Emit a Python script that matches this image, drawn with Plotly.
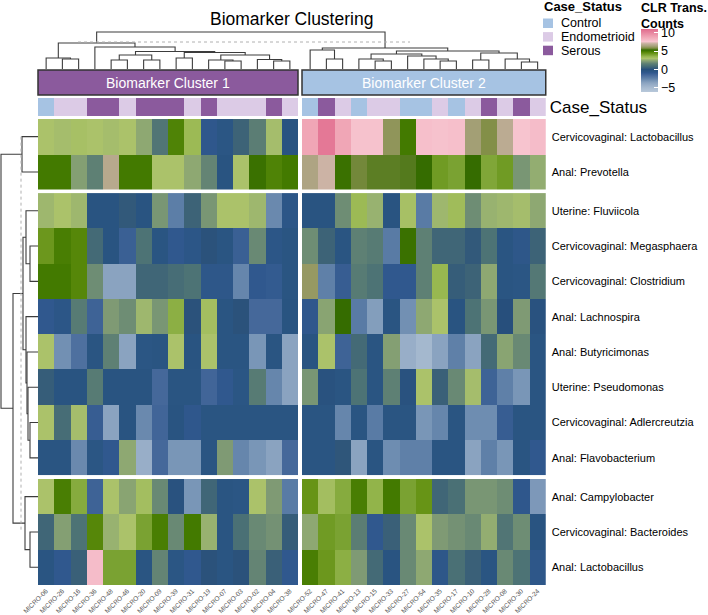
import plotly.graph_objects as go

# ---------------------------------------------------------------- data
samples_c1 = ["MICRO-06", "MICRO-26", "MICRO-16", "MICRO-36", "MICRO-48", "MICRO-46",
              "MICRO-20", "MICRO-09", "MICRO-39", "MICRO-31", "MICRO-19", "MICRO-07",
              "MICRO-03", "MICRO-02", "MICRO-04", "MICRO-38"]
samples_c2 = ["MICRO-52", "MICRO-47", "MICRO-41", "MICRO-13", "MICRO-15", "MICRO-33",
              "MICRO-27", "MICRO-54", "MICRO-35", "MICRO-17", "MICRO-10", "MICRO-28",
              "MICRO-08", "MICRO-30", "MICRO-24"]

status_c1 = ["Control", "Endometrioid", "Endometrioid", "Serous", "Serous", "Endometrioid",
             "Serous", "Serous", "Serous", "Endometrioid", "Serous", "Endometrioid",
             "Endometrioid", "Endometrioid", "Serous", "Endometrioid"]
status_c2 = ["Control", "Serous", "Endometrioid", "Control", "Endometrioid", "Endometrioid",
             "Control", "Control", "Endometrioid", "Control", "Endometrioid", "Serous",
             "Endometrioid", "Serous", "Endometrioid"]

status_levels = ["Control", "Endometrioid", "Serous"]
cluster_names = ["Biomarker Cluster 1", "Biomarker Cluster 2"]

biomarkers = ["Cervicovaginal: Lactobacillus", "Anal: Prevotella",
              "Uterine: Fluviicola", "Cervicovaginal: Megasphaera",
              "Cervicovaginal: Clostridium", "Anal: Lachnospira", "Anal: Butyricimonas",
              "Uterine: Pseudomonas", "Cervicovaginal: Adlercreutzia", "Anal: Flavobacterium",
              "Anal: Campylobacter", "Cervicovaginal: Bacteroides", "Anal: Lactobacillus"]
row_group_sizes = [2, 8, 3]

# CLR transformed counts, 16 samples of cluster 1 then 15 of cluster 2
cv_lactobacillus = [3.0, 2.9, 3.1, 3.0, 2.9, 3.0, 2.5, 1.2, 4.8, 3.4, -0.8, -0.5, 0.6, 1.5, 2.9, -0.3,
                    8.8, 10.5, 8.8, 7.7, 7.7, 6.0, 5.0, 7.8, 7.7, 7.8, 6.3, 5.8, 6.8, 7.6, 7.9]
an_prevotella = [5.0, 5.0, 2.3, 1.6, 6.7, 5.0, 5.0, 3.0, 3.0, 2.5, 1.7, -0.3, 3.0, 5.2, 4.8, 5.0,
                 6.5, 7.1, 5.2, 5.7, 5.55, 5.55, 5.5, 5.3, 4.2, 4.0, 5.3, 3.9, 4.2, 2.1, 2.6]
ut_fluviicola = [2.8, 3.0, 2.8, -0.3, -0.3, 0.3, -0.3, 2.1, -2.3, 0.6, 2.1, 3.0, 3.0, 2.8, -2.7, -0.6,
                 -0.3, -0.3, 1.9, 3.4, 2.7, -0.3, 3.1, -2.2, 2.8, 3.3, 1.9, 2.7, 2.8, 2.9, 2.5]
cv_megasphaera = [4.3, 4.9, 4.7, 0.8, -0.3, -1.2, 1.1, -0.4, -0.9, -0.6, 0.1, -0.4, -1.2, 1.8, -0.6, -0.4,
                  1.9, 0.6, -0.4, 1.6, 1.4, -2.2, 5.2, 1.6, 0.7, 0.7, 0.3, 1.1, -0.4, -0.7, 0.6]
cv_clostridium = [5.0, 5.0, 4.7, 1.9, -3.6, -3.6, 0.7, 0.7, 0.9, 1.1, -0.7, -0.7, -2.6, -0.9, -1.0, -0.4,
                  6.1, -2.4, -1.1, 1.4, 1.1, -0.9, -0.9, 1.6, 3.5, 0.4, 0.6, 2.5, -0.4, -0.5, 1.3]
an_lachnospira = [-0.9, -0.6, 1.4, -1.3, 2.2, 1.9, 2.8, 2.1, 3.7, 0.1, 3.2, -0.4, 0.1, -1.5, -1.5, -0.3,
                  -0.8, 2.4, 5.3, -2.2, -3.4, -0.4, -2.9, 2.5, 3.0, -0.3, 1.1, 2.1, 0.0, 2.2, -0.2]
an_butyricimonas = [3.0, -2.9, -1.8, -0.4, 1.6, -3.6, -0.5, -0.4, 3.0, -0.3, 3.0, -0.4, -0.4, -3.1, -0.4, -3.6,
                    -0.3, 3.0, -1.3, 0.8, -0.4, 2.3, -4.2, -4.8, -3.6, -2.4, -3.6, 0.8, 2.4, 1.8, -0.4]
ut_pseudomonas = [0.4, -0.3, -0.3, 1.4, -0.3, -0.3, -0.3, -1.5, -0.4, -0.4, -1.4, -0.9, -0.5, 1.4, -2.6, -3.6,
                  2.1, -0.2, -0.4, 1.1, -0.4, 1.6, -0.2, 3.0, 0.5, 1.8, 2.9, -1.3, -2.4, -3.1, -0.4]
cv_adlercreutzia = [3.0, 0.9, 2.9, -1.1, -3.6, -0.3, -2.7, -1.4, -0.3, -0.8, -0.4, -0.4, -0.4, -0.4, -0.4, -0.4,
                    -0.4, -0.4, -2.6, -0.4, -2.2, -0.4, -0.4, -3.1, -2.6, -0.4, -2.8, -2.8, -1.1, -0.4, -0.4]
an_flavobacterium = [-0.4, -0.4, -2.7, -0.5, -0.9, 2.5, -4.2, -1.5, -3.1, -3.1, -0.4, 2.2, -2.6, -3.1, -3.6, -1.5,
                     -0.4, -0.4, 0.2, -3.6, -0.4, -2.8, -2.4, -2.4, -0.4, -0.4, -3.6, -2.4, -3.1, -0.4, -0.9]
an_campylobacter = [3.0, 4.9, 3.8, -1.3, 3.0, 2.4, 3.2, 1.8, -0.2, -3.1, 0.7, -0.4, -0.5, 3.0, 2.2, -2.2,
                    4.4, 3.2, 3.8, 4.9, 3.6, 5.0, 4.0, 4.4, 0.7, 1.0, 2.1, 2.1, 1.9, -0.8, -3.2]
cv_bacteroides = [0.7, 2.3, 1.1, 4.7, 2.7, 3.0, 4.0, 4.9, 1.8, 5.0, 2.7, -0.4, 1.0, 1.8, 2.0, 0.4,
                  2.5, 4.2, 4.0, 1.5, -0.9, 0.5, 1.8, 3.0, 2.2, 2.0, 1.8, 2.6, 1.2, 1.9, -0.3]
an_lactobacillus = [-0.4, -0.9, 0.5, 7.9, 4.0, 4.0, -0.4, 1.7, -0.5, -0.9, 0.1, -0.4, 0.1, 1.7, 0.5, -0.9,
                    4.9, 4.3, 3.7, 2.2, 0.8, -0.3, 1.8, 2.5, -0.7, 1.0, 0.5, -0.4, 1.8, 1.1, -0.7]

# dendrograms: [left, right, merge height]; leaves are sample / biomarker indices
col_tree = [
    [[0, [1, 2, 10], 11],
     [3, [[[4, 5, 9], [6, 7, 9], 14],
          [[8, 9, 11], [[10, [11, 12, 8], 9], [13, [14, 15, 8], 9.5], 14], 16.5], 17.5], 22], 26],
    [[16, [17, 18, 10], 19],
     [[[19, [20, 21, 8], 10], [22, [23, [24, 25, 8], 10], 13], 15],
      [[26, 27, 9], [28, [29, 30, 7], 10], 16], 18], 21],
    37]
row_tree = [[0, 1, 16],
            [[[2, [3, 4, 8], 12], [5, [6, [7, [8, 9, 8], 10], 11], 12], 15],
             [10, [11, 12, 8], 13], 25],
            37]
col_cut = 27
row_cut = 17

# ---------------------------------------------------------------- styles
W, H = 708, 615
FONT = "Liberation Sans, Arial, sans-serif"
STATUS_COLORS = {"Control": "#a6c3e3", "Endometrioid": "#dccbe6", "Serous": "#8b5a9d"}
CLUSTER_COLORS = ["#8b5a9d", "#a6c3e3"]
ZMIN, ZMAX = -6.1, 11.0
scale_stops = [(-6.1, "#b8c8da"), (-5, "#a8bbd0"), (-4.2, "#98aec8"), (-3.6, "#8aa3c0"),
               (-3, "#7693b5"), (-2.5, "#6283aa"), (-1.5, "#45689a"), (-0.9, "#30588e"),
               (-0.4, "#2a5582"), (0, "#274f7c"), (0.5, "#3a6078"), (1.0, "#4a7075"),
               (1.6, "#5e8074"), (2.2, "#7f9a74"), (2.7, "#98b270"), (3.0, "#abc26a"),
               (3.5, "#98b850"), (4.0, "#7aa232"), (4.5, "#62900f"), (5.0, "#437a00"),
               (5.3, "#356c00"), (5.8, "#838f48"), (6.4, "#a9a27e"), (7.0, "#c4b09c"),
               (7.6, "#f7c4cf"), (8.8, "#f0a6b6"), (11.0, "#e06a8c")]
colorscale = [[(v - ZMIN) / (ZMAX - ZMIN), c] for v, c in scale_stops]

# pixel layout of the heatmap body
HM_LEFT, CELL_W, COL_GAP = 38, 16.25, 4
HM_TOP, CELL_H, ROW_GAP = 119, 35.3, 3.5
STATUS_TOP, STATUS_BOT = 98, 116
BOX_TOP, BOX_BOT = 70, 95
DEND_TOP = 30


def px(x):
    return x / W


def py(y):
    return 1 - y / H


def label(x, y, text, size, color="black", xanchor="left", xref="paper", yanchor="middle"):
    '''Paper annotation placed on pixel row y.'''
    return dict(xref=xref, yref="paper", x=x, y=py(y), xanchor=xanchor, yanchor=yanchor,
                text=text, showarrow=False, font=dict(size=size, color=color, family=FONT))


def dendro_lines(node, leaf_pos, pos, hgt):
    '''Walks the tree and appends elbow segments, returns (position, height).'''
    if isinstance(node, int):
        return leaf_pos[node], 0.0
    left, right, h = node
    pl, hl = dendro_lines(left, leaf_pos, pos, hgt)
    pr, hr = dendro_lines(right, leaf_pos, pos, hgt)
    pos += [pl, pl, pr, pr, None]
    hgt += [hl, h, h, hr, None]
    return (pl + pr) / 2, h


rows = [cv_lactobacillus, an_prevotella, ut_fluviicola, cv_megasphaera, cv_clostridium,
        an_lachnospira, an_butyricimonas, ut_pseudomonas, cv_adlercreutzia,
        an_flavobacterium, an_campylobacter, cv_bacteroides, an_lactobacillus]
n1 = len(samples_c1)
col_groups = [(samples_c1, 0, n1), (samples_c2, n1, n1 + len(samples_c2))]

# column extents (pixels)
col_x = []
x0 = HM_LEFT
for names, a, b in col_groups:
    col_x.append((x0, x0 + len(names) * CELL_W))
    x0 = x0 + len(names) * CELL_W + COL_GAP
# row extents (pixels)
row_y = []
y0 = HM_TOP
start = 0
for n in row_group_sizes:
    row_y.append((y0, y0 + n * CELL_H, start, start + n))
    y0 = y0 + n * CELL_H + ROW_GAP
    start += n
HM_BOT = row_y[-1][1]

fig = go.Figure()
layout = {}

for ci, (names, a, b) in enumerate(col_groups):
    xname = "x" if ci == 0 else "x2"
    for gi, (ya, yb, ra, rb) in enumerate(row_y):
        yname = "y" if gi == 0 else "y%d" % (gi + 1)
        fig.add_trace(go.Heatmap(
            z=[r[a:b] for r in rows[ra:rb]], x=names, y=biomarkers[ra:rb],
            xaxis=xname, yaxis=yname, zmin=ZMIN, zmax=ZMAX, colorscale=colorscale,
            hoverinfo="skip", showscale=(ci == 0 and gi == 0),
            colorbar=dict(x=px(640.5), xanchor="left", xpad=0, y=py(92), yanchor="bottom",
                          ypad=0, lenmode="pixels", len=62.7, thickness=17,
                          outlinewidth=0, tickvals=[-5, 0, 5, 10], ticks="inside",
                          ticklen=4, tickcolor="white",
                          tickfont=dict(size=12.5, color="black", family=FONT))))
    # case status annotation row
    stat = status_c1 if ci == 0 else status_c2
    codes = [status_levels.index(s) for s in stat]
    fig.add_trace(go.Heatmap(
        z=[codes], x=names, y=["Case_Status"], xaxis=xname, yaxis="y4",
        zmin=0, zmax=2, showscale=False, hoverinfo="skip",
        colorscale=[[0, STATUS_COLORS["Control"]], [1 / 3, STATUS_COLORS["Control"]],
                    [1 / 3, STATUS_COLORS["Endometrioid"]], [2 / 3, STATUS_COLORS["Endometrioid"]],
                    [2 / 3, STATUS_COLORS["Serous"]], [1, STATUS_COLORS["Serous"]]]))
    key = "xaxis" if ci == 0 else "xaxis2"
    layout[key] = dict(domain=[px(col_x[ci][0]), px(col_x[ci][1])], anchor="y3",
                       type="category", tickangle=-45, ticks="", showgrid=False,
                       zeroline=False, ticklabelstandoff=0, automargin=False,
                       tickfont=dict(size=6.6, color="#555555", family=FONT))

for gi, (ya, yb, ra, rb) in enumerate(row_y):
    key = "yaxis" if gi == 0 else "yaxis%d" % (gi + 1)
    layout[key] = dict(domain=[py(yb), py(ya)], anchor="x2", side="right",
                       autorange="reversed", type="category", ticks="", automargin=False,
                       showgrid=False, zeroline=False, ticklabelstandoff=5,
                       tickfont=dict(size=11, color="black", family=FONT))
layout["yaxis4"] = dict(domain=[py(STATUS_BOT), py(STATUS_TOP)], anchor="x2", side="right",
                        type="category", ticks="", showgrid=False, zeroline=False,
                        automargin=False, ticklabelstandoff=3,
                        tickfont=dict(size=17, color="black", family=FONT))

# row dendrogram (left)
row_pos = []
for ya, yb, ra, rb in row_y:
    row_pos += [ya + (i + 0.5) * CELL_H for i in range(rb - ra)]
rp, rh = [], []
dendro_lines(row_tree, row_pos, rp, rh)
fig.add_trace(go.Scatter(x=rh, y=rp, mode="lines", xaxis="x3", yaxis="y5",
                         line=dict(color="#3c3c3c", width=1.1), hoverinfo="skip",
                         showlegend=False))
fig.add_trace(go.Scatter(x=[row_cut, row_cut], y=[row_pos[0], row_pos[-2]], mode="lines",
                         xaxis="x3", yaxis="y5", hoverinfo="skip", showlegend=False,
                         line=dict(color="#b0b0b0", width=1, dash="dot")))
layout["xaxis3"] = dict(domain=[0, px(HM_LEFT)], range=[38, 0], anchor="y5", visible=False)
layout["yaxis5"] = dict(domain=[py(HM_BOT), py(HM_TOP)], range=[HM_BOT, HM_TOP],
                        anchor="x3", visible=False)

# column dendrogram (top)
col_pos = []
for ci, (names, a, b) in enumerate(col_groups):
    col_pos += [col_x[ci][0] + (i + 0.5) * CELL_W for i in range(b - a)]
cp, ch = [], []
dendro_lines(col_tree, col_pos, cp, ch)
fig.add_trace(go.Scatter(x=cp, y=ch, mode="lines", xaxis="x4", yaxis="y6",
                         line=dict(color="#3c3c3c", width=1.1), hoverinfo="skip",
                         showlegend=False))
fig.add_trace(go.Scatter(x=[78, 410], y=[col_cut, col_cut], mode="lines",
                         xaxis="x4", yaxis="y6", hoverinfo="skip", showlegend=False,
                         line=dict(color="#b0b0b0", width=1, dash="dot")))
layout["xaxis4"] = dict(domain=[px(col_x[0][0]), px(col_x[1][1])],
                        range=[col_x[0][0], col_x[1][1]], anchor="y6", visible=False)
layout["yaxis6"] = dict(domain=[py(BOX_TOP - 1), py(DEND_TOP)],
                        range=[0, BOX_TOP - 1 - DEND_TOP], anchor="x4", visible=False)

# cluster label boxes
shapes = []
annotations = []
for ci, xname in enumerate(["x", "x2"]):
    shapes.append(dict(type="rect", xref=xname + " domain", x0=0, x1=1, yref="paper",
                       y0=py(BOX_BOT), y1=py(BOX_TOP), fillcolor=CLUSTER_COLORS[ci],
                       line=dict(color="#333333", width=1.5), layer="above"))
    annotations.append(label(0.5, (BOX_TOP + BOX_BOT) / 2, cluster_names[ci], 14,
                             color="white", xanchor="center", xref=xname + " domain"))

# title
annotations.append(label(px((col_x[0][0] + col_x[1][1]) / 2), 19, "Biomarker Clustering",
                         17.5, xanchor="center"))

# case status legend
annotations.append(label(px(542), 6, "<b>Case_Status</b>", 13))
for i, lev in enumerate(status_levels):
    top = 18.5 + i * 13.6
    shapes.append(dict(type="rect", xref="paper", yref="paper", x0=px(543), x1=px(553),
                       y0=py(top + 9.5), y1=py(top), fillcolor=STATUS_COLORS[lev],
                       line=dict(width=0)))
    annotations.append(label(px(559), top + 4.8, lev, 12.5))

# colour bar title
cb_title = label(px(640), 0, "<b>CLR Trans.</b><br><b>Counts</b>", 12.5, yanchor="top")
cb_title["align"] = "left"
cb_title["borderpad"] = 0
annotations.append(cb_title)

fig.update_layout(width=W, height=H, margin=dict(l=0, r=0, t=0, b=0),
                  paper_bgcolor="white", plot_bgcolor="white", showlegend=False,
                  font=dict(family=FONT), shapes=shapes, annotations=annotations, **layout)

fig.write_html("out.html", config={"displayModeBar": False},
               post_script="document.body.style.margin='0';document.body.style.overflow='hidden';")
